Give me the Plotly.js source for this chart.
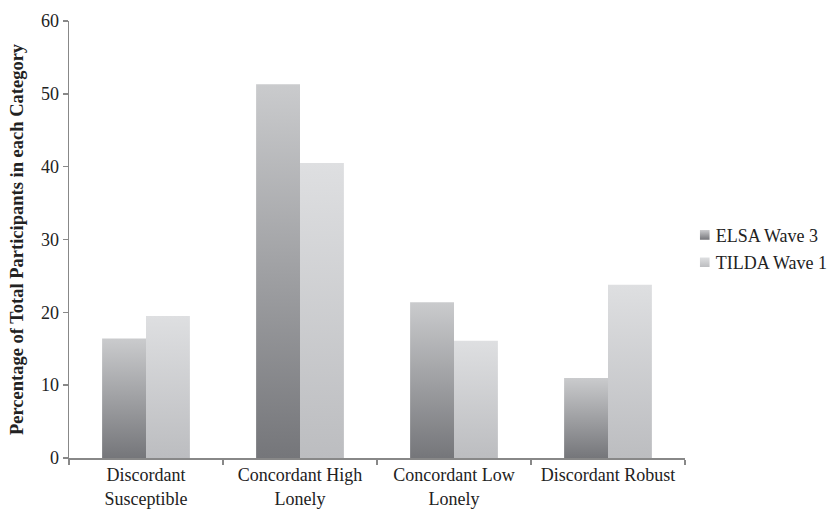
<!DOCTYPE html>
<html>
<head>
<meta charset="utf-8">
<script src="https://cdn.plot.ly/plotly-3.0.1.min.js"></script>
<style>html,body{margin:0;padding:0;background:#fff;}</style>
</head>
<body>
<div id="chart" style="width:834px;height:509px;"></div>
<script>
var categories = ["Discordant<br>Susceptible", "Concordant High<br>Lonely", "Concordant Low<br>Lonely", "Discordant Robust"];
var elsaValues = [16.4, 51.3, 21.4, 11.0];
var tildaValues = [19.5, 40.5, 16.1, 23.8];
var seriesNames = ["ELSA Wave 3", "TILDA Wave 1"];
var yTicks = [0, 10, 20, 30, 40, 50, 60];

var font = "Liberation Serif, Times New Roman, serif";

var data = [
  {type: "bar", x: categories, y: elsaValues, name: seriesNames[0], legendgroup: "a",
   marker: {color: "#a0a1a4", line: {width: 0}}, hoverinfo: "skip"},
  {type: "bar", x: categories, y: tildaValues, name: seriesNames[1], legendgroup: "b",
   marker: {color: "#cdced0", line: {width: 0}}, hoverinfo: "skip"}
];

var layout = {
  width: 834, height: 509,
  margin: {l: 69, r: 149, t: 21, b: 51, autoexpand: false},
  paper_bgcolor: "#fff", plot_bgcolor: "#fff",
  barmode: "group", bargap: 0.43, bargroupgap: 0,
  font: {family: font, size: 18, color: "#222"},
  showlegend: true,
  legend: {x: 0.985, xanchor: "left", y: 0.479, yanchor: "middle",
           traceorder: "grouped", tracegroupgap: 1,
           font: {family: font, size: 18, color: "#222"}},
  xaxis: {
    type: "category", tickson: "boundaries", ticks: "outside", ticklen: 5,
    tickcolor: "#888", tickwidth: 1.5, showline: true, linecolor: "#888", linewidth: 1.5,
    showgrid: false, zeroline: false, tickfont: {family: font, size: 18, color: "#222"}
  },
  yaxis: {
    range: [0, 60], tickvals: yTicks, ticktext: yTicks.map(String),
    ticks: "outside", ticklen: 5, tickcolor: "#888", tickwidth: 1.5,
    showline: true, linecolor: "#888", linewidth: 1.5, showgrid: false, zeroline: false,
    tickfont: {family: font, size: 18, color: "#222"},
    title: {text: "<b>Percentage of Total Participants in each Category</b>", standoff: 12,
            font: {family: font, size: 18.5, color: "#222"}}
  }
};

Plotly.newPlot("chart", data, layout, {staticPlot: true}).then(function(gd) {
  var svgNS = "http://www.w3.org/2000/svg";
  var svg = gd.querySelector("svg.main-svg");
  var defs = svg.querySelector("defs") || svg.insertBefore(document.createElementNS(svgNS, "defs"), svg.firstChild);
  function grad(id, bottom, top) {
    var g = document.createElementNS(svgNS, "linearGradient");
    g.setAttribute("id", id);
    g.setAttribute("x1", "0"); g.setAttribute("y1", "1");
    g.setAttribute("x2", "0"); g.setAttribute("y2", "0");
    var s1 = document.createElementNS(svgNS, "stop");
    s1.setAttribute("offset", "0"); s1.setAttribute("stop-color", bottom);
    var s2 = document.createElementNS(svgNS, "stop");
    s2.setAttribute("offset", "1"); s2.setAttribute("stop-color", top);
    g.appendChild(s1); g.appendChild(s2);
    defs.appendChild(g);
  }
  grad("gElsa", "#75767a", "#cacbcd");
  grad("gTilda", "#bcbdc0", "#dedfe1");
  var ids = ["gElsa", "gTilda"];
  var traces = gd.querySelectorAll(".barlayer .trace");
  traces.forEach(function(t, i) {
    t.querySelectorAll("path").forEach(function(p) { p.style.fill = "url(#" + ids[i] + ")"; });
  });
  var leg = gd.querySelectorAll(".legend .traces");
  leg.forEach(function(t, i) {
    var lp = t.querySelector(".legendpoints");
    if (lp) lp.setAttribute("transform", "translate(13,0) scale(0.8)");
    t.querySelectorAll(".legendpoints path").forEach(function(p) { p.style.fill = "url(#" + ids[i] + ")"; });
  });
});
</script>
</body>
</html>
